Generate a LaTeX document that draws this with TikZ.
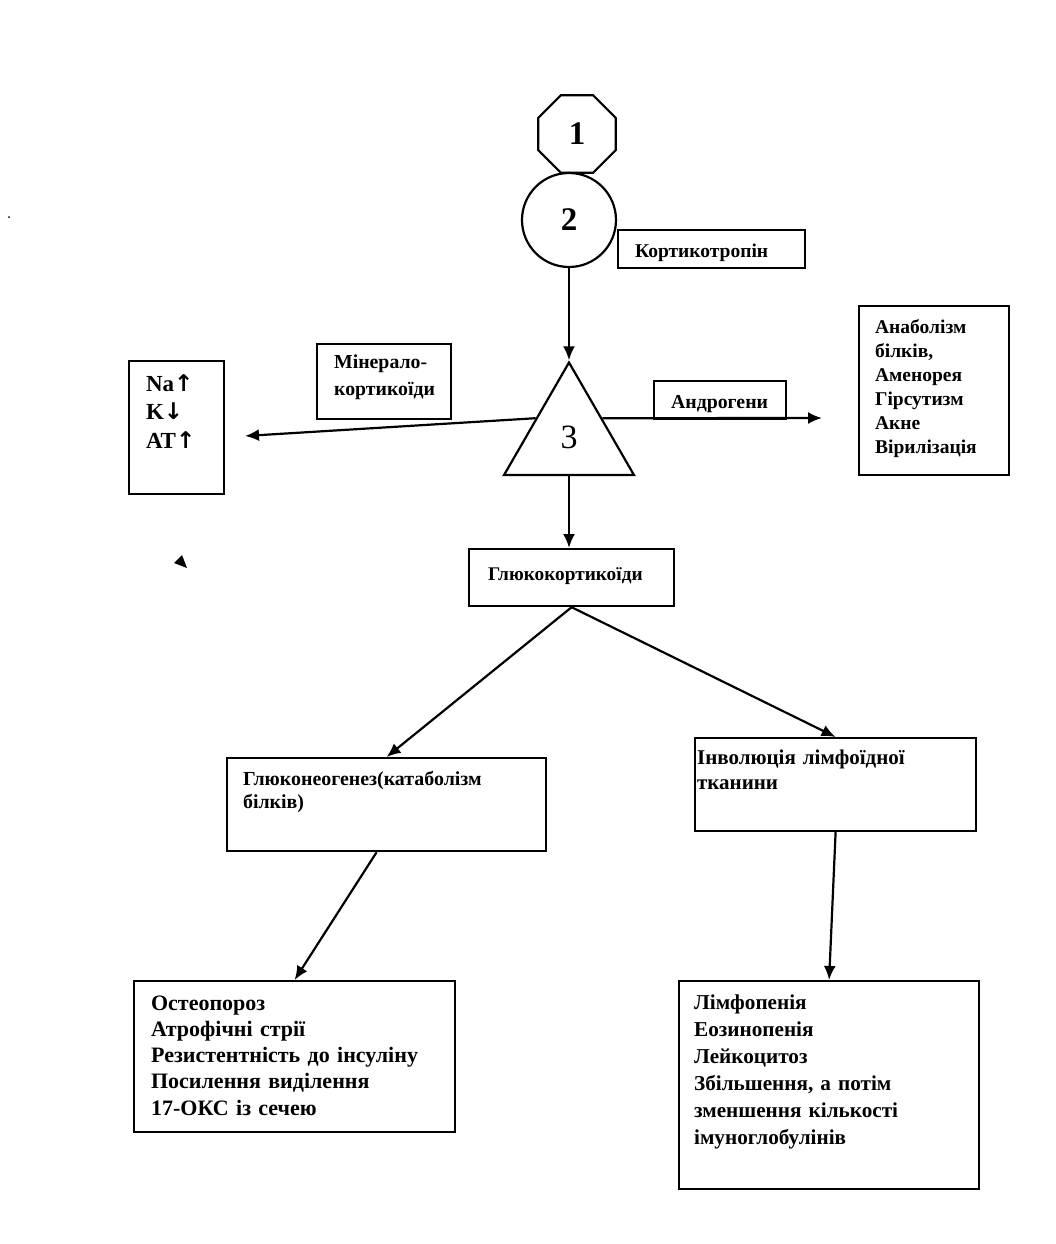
\documentclass[tikz,border=0pt]{standalone}
\usepackage{fontspec}
\setmainfont{Liberation Serif}
\newfontfamily\arrowfont{DejaVu Sans}
\usetikzlibrary{shapes.geometric,arrows.meta,calc}
\newcommand{\upar}{{\arrowfont\fontsize{23}{23}\selectfont ↑}}
\newcommand{\dnar}{{\arrowfont\fontsize{23}{23}\selectfont ↓}}
\begin{document}
\begin{tikzpicture}[x=1pt,y=-1pt,
  line width=2.2pt,
  box/.style={draw,rectangle,inner sep=0pt,anchor=north west},
  txt/.style 2 args={anchor=base west,inner sep=0pt,align=left,font=\bfseries\fontsize{#1}{#2}\selectfont,text width=340pt},
  arr/.style={-{Latex[length=14pt,width=12pt]}},
]
\useasboundingbox (0,0) rectangle (1056,1244);
% shapes
\node[draw,regular polygon,regular polygon sides=8,minimum size=84pt,inner sep=0pt,font=\bfseries\fontsize{33}{33}\selectfont] (oct) at (577,134) {1};
\node[draw,circle,minimum size=94pt,inner sep=0pt,font=\bfseries\fontsize{33}{33}\selectfont] (c2) at (569,220) {2};
\node[draw,regular polygon,regular polygon sides=3,minimum size=150pt,inner sep=0pt] (tri) at (569,437.5) {};
\node[font=\fontsize{34}{34}\selectfont] (t3) at (569,437) {3};

% boxes
\node[box,minimum width=187pt,minimum height=38pt] (kort) at (617,229) {};
\node[txt={19.5}{24}] (kortt) at (634,257) {Кортикотропін};

\node[box,minimum width=134pt,minimum height=75pt] (min) at (316,343) {};
\node[txt={19.8}{27}] (mint) at (333,368) {Мінерало-\\кортикоїди};

\node[box,minimum width=95pt,minimum height=133pt] (na) at (128,360) {};
\node[txt={23}{28.5}] (nat) at (145,391) {Na\upar\\K\dnar\\АТ\upar};

\node[box,minimum width=132pt,minimum height=38pt] (andr) at (653,380) {};
\node[txt={19.8}{24}] (andrt) at (670,408) {Андрогени};

\node[box,minimum width=150pt,minimum height=169pt] (anab) at (858,305) {};
\node[txt={19.5}{24}] (anabt) at (874,333) {Анаболізм\\білків,\\Аменорея\\Гірсутизм\\Акне\\Вірилізація};

\node[box,minimum width=205pt,minimum height=57pt] (gk) at (468,548) {};
\node[txt={19.3}{24}] (gkt) at (487,580) {Глюкокортикоїди};

\node[box,minimum width=319pt,minimum height=93pt] (gn) at (226,757) {};
\node[txt={19.9}{23}] (gnt) at (242,785) {Глюконеогенез(катаболізм\\білків)};

\node[box,minimum width=281pt,minimum height=93pt] (inv) at (694,737) {};
\node[txt={21}{25}] (invt) at (696,764) {Інволюція лімфоїдної\\тканини};

\node[box,minimum width=321pt,minimum height=151pt] (ost) at (133,980) {};
\node[txt={22}{26.3}] (ostt) at (150,1010) {Остеопороз\\Атрофічні стрії\\Резистентність до інсуліну\\Посилення виділення\\17-ОКС із сечею};

\node[box,minimum width=300pt,minimum height=208pt] (lym) at (678,980) {};
\node[txt={21.2}{27}] (lymt) at (693,1009) {Лімфопенія\\Еозинопенія\\Лейкоцитоз\\Збільшення, а потім\\зменшення кількості\\імуноглобулінів};

% connectors
\coordinate (mkend) at (245,436);
\coordinate (anend) at (822,418);
\draw[arr] (c2.south) -- (tri.corner 1);
\draw[arr] ($(tri.corner 1)!.5!(tri.corner 2)$) -- (mkend);
\draw[arr] ($(tri.corner 1)!.5!(tri.corner 3)$) -- (anend);
\draw[arr] ($(tri.corner 2)!.5!(tri.corner 3)$) -- (gk.north -| tri.south);
\draw[arr] (gk.south) -- (gn.north);
\draw[arr] (gk.south) -- (inv.north);
\draw[arr] ($(gn.south)+(-10,0)$) -- (ost.north);
\draw[arr] (inv.south) -- (lym.north);

% stray marks
\fill (182,555) -- (174,563) -- (187,568) -- cycle;
\fill (9,217) circle (1pt);
\end{tikzpicture}
\end{document}
